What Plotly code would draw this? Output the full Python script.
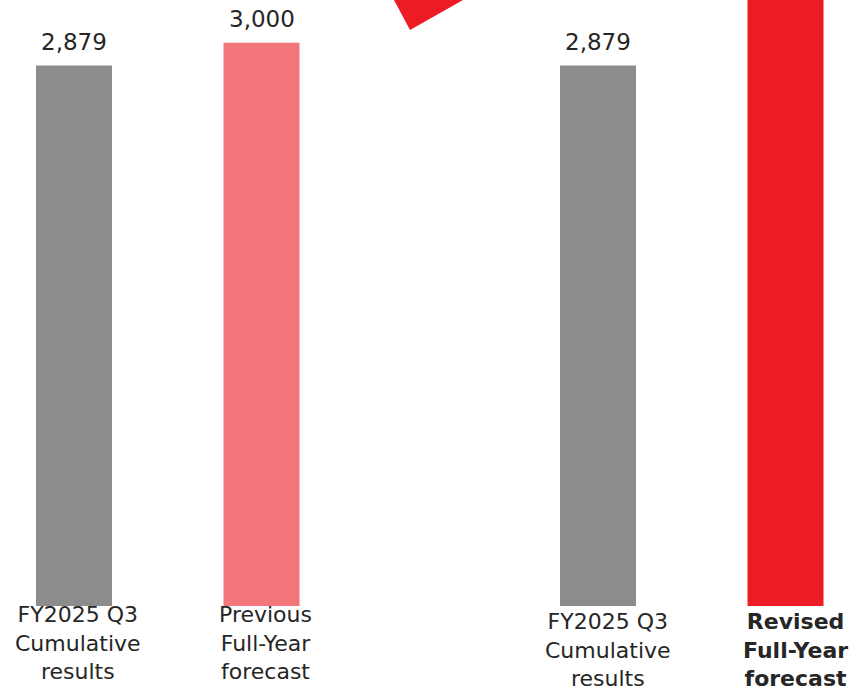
import plotly.graph_objects as go

# ---- data ----
left_categories = ["FY2025 Q3<br>Cumulative<br>results", "Previous<br>Full-Year<br>forecast"]
left_values = [2879, 3000]
right_categories = ["FY2025 Q3<br>Cumulative<br>results",
                    "<b>Revised</b><br><b>Full-Year</b><br><b>forecast</b>"]
right_values = [2879, 3500]
left_labels = ["2,879", "3,000"]
right_labels = ["2,879", ""]

# ---- styles ----
GRAY = "#8C8C8C"
PINK = "#F3767A"
RED = "#ED1C24"
TEXT = "#262626"
FONT = "DejaVu Sans"

W, H = 856, 691
BASE_PX = 605.7          # pixel row of the zero line
PX_PER_UNIT = 0.18762
Y_TOP = BASE_PX / PX_PER_UNIT

fig = go.Figure()
fig.add_trace(go.Bar(x=left_categories, y=left_values, marker_color=[GRAY, PINK],
                     marker_line_width=0, xaxis="x", yaxis="y", showlegend=False,
                     hoverinfo="skip"))
fig.add_trace(go.Bar(x=right_categories, y=right_values, marker_color=[GRAY, RED],
                     marker_line_width=0, xaxis="x2", yaxis="y2", showlegend=False,
                     hoverinfo="skip"))

annotations = []
for xref, yref, cats, vals, labs, cat_dx, cat_dy in [
        ("x", "y", left_categories, left_values, left_labels, 4, 6),
        ("x2", "y2", right_categories, right_values, right_labels, 10, -1)]:
    for c, v, t in zip(cats, vals, labs):
        # category label under the bar
        annotations.append(dict(x=c, y=0, xref=xref, yref=yref, text=c, showarrow=False,
                                yanchor="top", xanchor="center", align="center",
                                xshift=cat_dx, yshift=cat_dy,
                                font=dict(family=FONT, size=22, color=TEXT)))
        if not t:
            continue
        annotations.append(dict(x=c, y=v, xref=xref, yref=yref, text=t, showarrow=False,
                                yanchor="bottom", yshift=9,
                                font=dict(family=FONT, size=23, color=TEXT)))

# decorative arrow band (partially visible at the top)
def P(px, py):
    return f"{px / W:.5f},{1 - py / BASE_PX:.5f}"

arrow_path = "M " + " L ".join([P(394, 0), P(410, 30), P(516, -30), P(500, -60)]) + " Z"

SPACING = 187.5
left_dom_px = 428
fig.update_layout(
    width=W, height=H,
    margin=dict(l=0, r=0, t=0, b=H - BASE_PX),
    paper_bgcolor="white", plot_bgcolor="white",
    bargap=0.5947,
    font=dict(family=FONT, size=22, color=TEXT),
    xaxis=dict(domain=[0, left_dom_px / W], type="category",
               range=[(0 - 74) / SPACING, (left_dom_px - 74) / SPACING],
               showgrid=False, showline=False, zeroline=False, ticks="",
               showticklabels=False, automargin=False, fixedrange=True),
    xaxis2=dict(domain=[left_dom_px / W, 1], type="category", anchor="y2",
                range=[(left_dom_px - 598) / SPACING, (W - 598) / SPACING],
                showgrid=False, showline=False, zeroline=False, ticks="",
                showticklabels=False, automargin=False, fixedrange=True),
    yaxis=dict(range=[0, Y_TOP], visible=False, fixedrange=True),
    yaxis2=dict(range=[0, Y_TOP], visible=False, anchor="x2", matches="y", fixedrange=True),
    annotations=annotations,
    shapes=[dict(type="path", xref="paper", yref="paper", path=arrow_path,
                 fillcolor=RED, line=dict(width=0), layer="above")],
)

fig.write_html("out.html", config={"displayModeBar": False},
               post_script="document.body.style.margin='0';document.body.style.overflow='hidden';")
